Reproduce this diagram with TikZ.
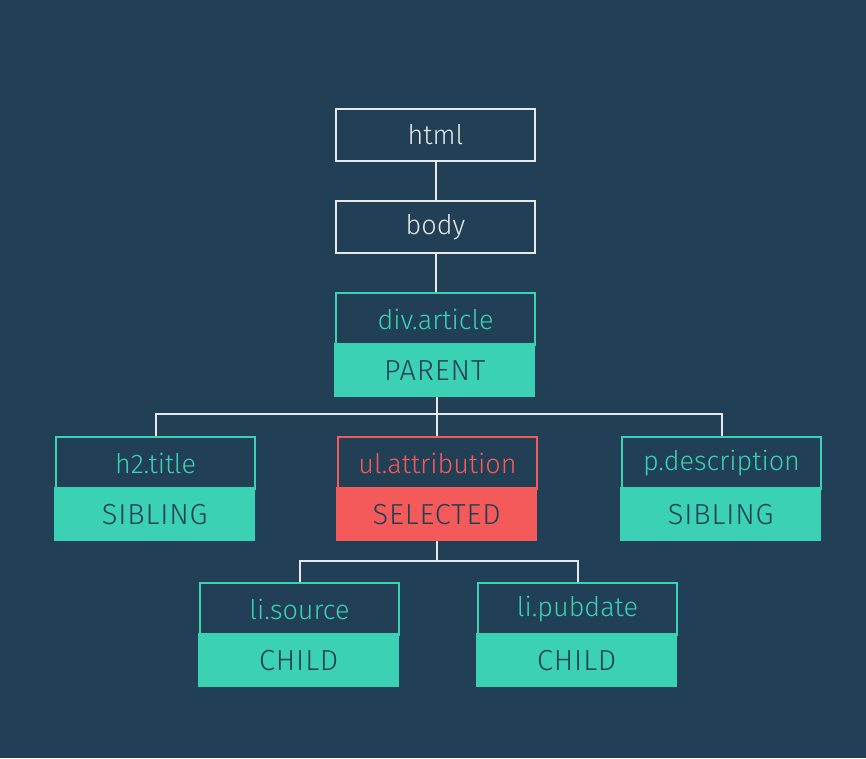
\documentclass[tikz,border=0pt]{standalone}
\usepackage{fontspec}
\setmainfont{Fira Sans Light}
\definecolor{bg}{HTML}{213F55}
\definecolor{teal}{HTML}{3AD1B5}
\definecolor{red}{HTML}{F55A5A}
\definecolor{wline}{HTML}{E8E8E8}
\tikzset{
  half/.style={minimum width=199pt, minimum height=52pt, inner sep=0pt, anchor=north west, font=\fontsize{27}{30}\selectfont},
  plainbox/.style={half, draw=wline, line width=2pt, fill=bg, text=wline},
  tagtop/.style={half, draw=teal, line width=2pt, fill=bg, text=teal},
  redtop/.style={half, draw=red, line width=2pt, fill=bg, text=red},
  bot/.style={minimum width=201pt, minimum height=54pt, inner sep=0pt, anchor=north west, text=bg, font=\fontsize{29}{32}\selectfont\addfontfeature{LetterSpace=3}},
  tagbot/.style={bot, fill=teal},
  redbot/.style={bot, fill=red},
  link/.style={draw=wline, line width=2pt}
}
\begin{document}
\begin{tikzpicture}[x=1pt,y=-1pt]
\fill[bg] (0,0) rectangle (866,758);
\useasboundingbox (0,0) rectangle (866,758);
% nodes
\node[plainbox] (html) at (335,108) {html};
\node[plainbox] (body) at (335,200) {body};
\node[tagtop] (div) at (335,292) {div.article};
\node[tagbot] (divlab) at (334,343) {PARENT};
\node[tagtop] (h2) at (55,436) {h2.title};
\node[tagbot] (h2lab) at (54,487) {SIBLING};
\node[redtop] (ul) at (337,436) {ul.attribution};
\node[redbot] (ullab) at (336,487) {SELECTED};
\node[tagtop] (pd) at (621,436) {p.description};
\node[tagbot] (pdlab) at (620,487) {SIBLING};
\node[tagtop] (lis) at (199,582) {li.source};
\node[tagbot] (lislab) at (198,633) {CHILD};
\node[tagtop] (lip) at (477,582) {li.pubdate};
\node[tagbot] (liplab) at (476,633) {CHILD};
% junctions
\coordinate (j1) at (437,414);
\coordinate (j2) at (437,561);
% connectors
\draw[link] (html.south) -- (body.north);
\draw[link] (body.south) -- (div.north);
\draw[link] (divlab.south -| j1) -- (j1);
\draw[link] (h2.north) |- (j1) -| (pd.north);
\draw[link] (j1) -- (ul.north -| j1);
\draw[link] (ullab.south -| j2) -- (j2);
\draw[link] (lis.north) |- (j2) -| (lip.north);
\end{tikzpicture}
\end{document}
